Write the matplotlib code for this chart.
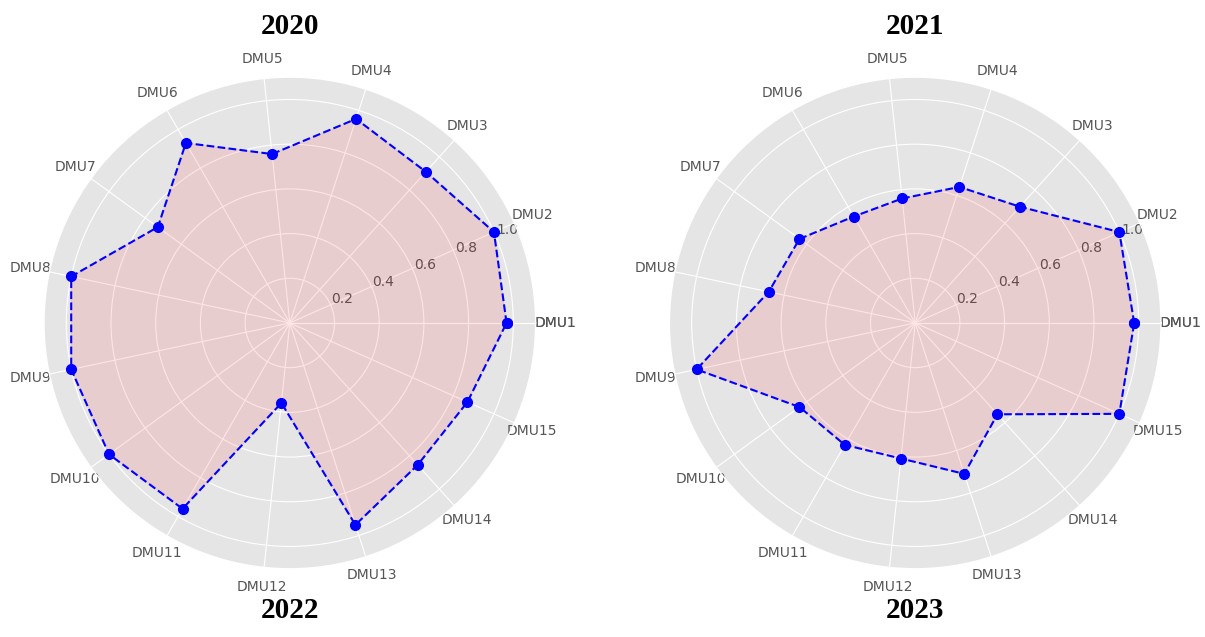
import numpy as np
import matplotlib
matplotlib.use('Agg')
import matplotlib.pyplot as plt

plt.style.use('ggplot')

labels = ['DMU1', 'DMU2', 'DMU3', 'DMU4', 'DMU5', 'DMU6', 'DMU7', 'DMU8',
          'DMU9', 'DMU10', 'DMU11', 'DMU12', 'DMU13', 'DMU14', 'DMU15']

eff_2020 = [0.97, 1.00, 0.91, 0.96, 0.76, 0.93, 0.73, 1.00,
            1.00, 1.00, 0.96, 0.36, 0.95, 0.855, 0.87]
eff_2021 = [0.98, 1.00, 0.70, 0.64, 0.56, 0.55, 0.64, 0.67,
            1.00, 0.64, 0.63, 0.61, 0.71, 0.55, 1.00]

n = len(labels)
angles = np.linspace(0, 2 * np.pi, n, endpoint=False)
angles = np.concatenate((angles, [angles[0]]))
tick_labels = labels + [labels[0]]

fig = plt.figure(figsize=(12.05, 6.37), dpi=100)

panels = [(eff_2020, '2020', '2022', 0.0365), (eff_2021, '2021', '2023', 0.5555)]
for vals, top_title, bottom_title, left in panels:
    ax = fig.add_axes([left, 0.107, 0.408, 0.772], polar=True)
    data = np.concatenate((vals, [vals[0]]))
    ax.plot(angles, data, 'bo--', linewidth=1.5, markersize=7)
    ax.fill(angles, data, color='red', alpha=0.1)
    ax.set_thetagrids(angles * 180 / np.pi, tick_labels)
    ax.set_ylim(0, 1.1)
    ax.set_yticks([0.2, 0.4, 0.6, 0.8, 1.0])
    ax.tick_params(labelsize=10)
    cx = left + 0.408 / 2
    fig.text(cx, 0.958, top_title, ha='center', va='center',
             fontsize=21, fontweight='bold', family='Liberation Serif')
    fig.text(cx, 0.042, bottom_title, ha='center', va='center',
             fontsize=21, fontweight='bold', family='Liberation Serif')

plt.savefig('out.png', dpi=100)
